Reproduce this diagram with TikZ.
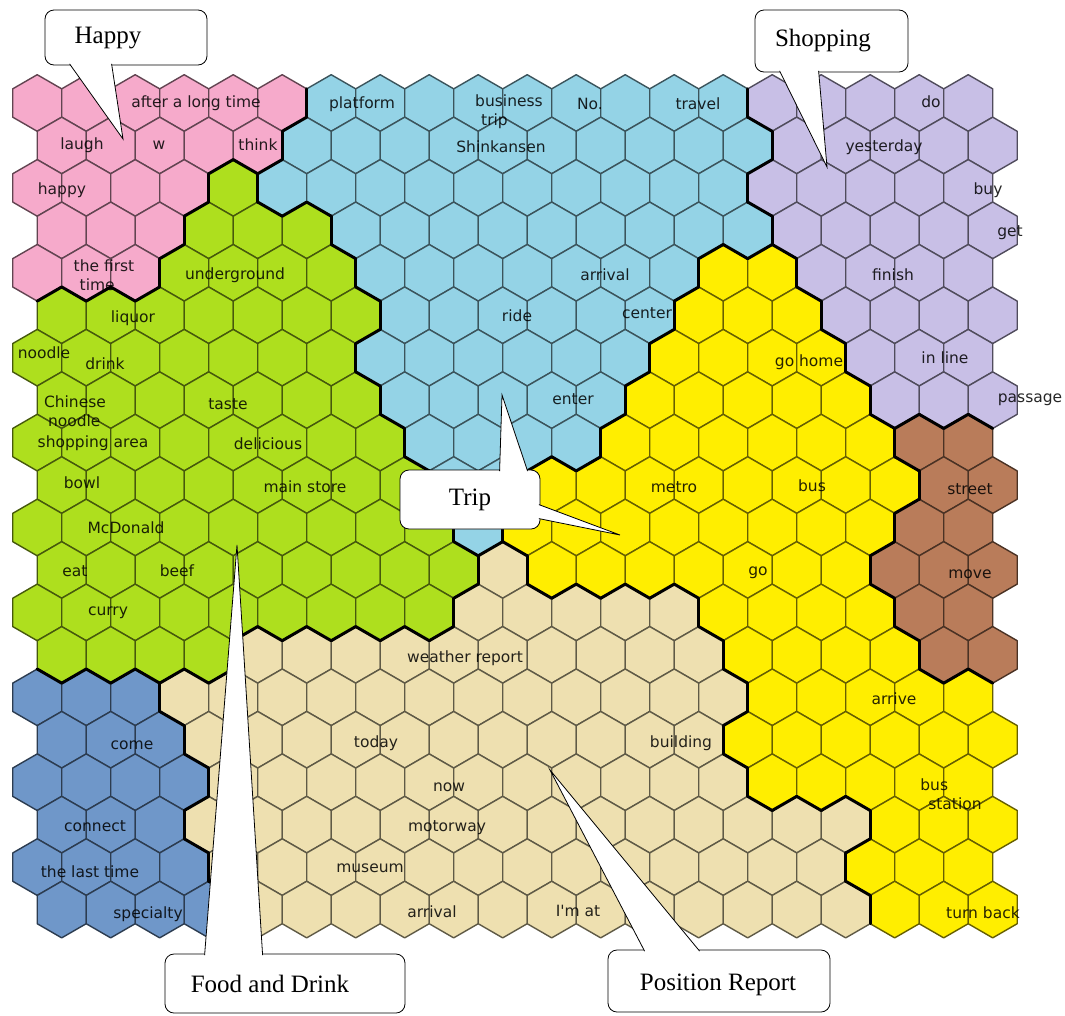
\documentclass[tikz,border=0pt]{standalone}
\usepackage{fontspec}
\usepackage{xstring}
\usetikzlibrary{calc}
\newfontfamily\cellfont{DejaVu Sans}
\newfontfamily\notefont{Liberation Serif}

\definecolor{MapPink}{HTML}{F6AACB}
\definecolor{MapSky}{HTML}{94D3E6}
\definecolor{MapLilac}{HTML}{C8BFE6}
\definecolor{MapLime}{HTML}{AEDF1E}
\definecolor{MapYellow}{HTML}{FFEE00}
\definecolor{MapBrown}{HTML}{B97C5A}
\definecolor{MapSand}{HTML}{EEE0B0}
\definecolor{MapSteel}{HTML}{6F97C9}

% letter of a cell -> fill colour
\def\hexcolP{MapPink}
\def\hexcolB{MapSky}
\def\hexcolL{MapLilac}
\def\hexcolG{MapLime}
\def\hexcolY{MapYellow}
\def\hexcolR{MapBrown}
\def\hexcolE{MapSand}
\def\hexcolS{MapSteel}

% one string of 20 cells per row of the map
\newcommand{\setmaprow}[2]{\expandafter\def\csname maprow#1\endcsname{#2}}
\setmaprow{0}{PPPPPPBBBBBBBBBLLLLL}
\setmaprow{1}{PPPPPBBBBBBBBBBLLLLL}
\setmaprow{2}{PPPPGBBBBBBBBBBLLLLL}
\setmaprow{3}{PPPGGGBBBBBBBBBLLLLL}
\setmaprow{4}{PPPGGGGBBBBBBBYYLLLL}
\setmaprow{5}{GGGGGGGBBBBBBYYYLLLL}
\setmaprow{6}{GGGGGGGBBBBBBYYYYLLL}
\setmaprow{7}{GGGGGGGBBBBBYYYYYLLL}
\setmaprow{8}{GGGGGGGGBBBBYYYYYYRR}
\setmaprow{9}{GGGGGGGGBBYYYYYYYYRR}
\setmaprow{10}{GGGGGGGGGBYYYYYYYYRR}
\setmaprow{11}{GGGGGGGGGEYYYYYYYRRR}
\setmaprow{12}{GGGGGGGGGEEEEEYYYYRR}
\setmaprow{13}{GGGGEEEEEEEEEEYYYYRR}
\setmaprow{14}{SSSEEEEEEEEEEEEYYYYY}
\setmaprow{15}{SSSEEEEEEEEEEEYYYYYY}
\setmaprow{16}{SSSSEEEEEEEEEEEYYYYY}
\setmaprow{17}{SSSEEEEEEEEEEEEEEYYY}
\setmaprow{18}{SSSSEEEEEEEEEEEEEYYY}
\setmaprow{19}{SSSSEEEEEEEEEEEEEYYY}
\newcommand{\getcell}[3]{\StrChar{\csname maprow#1\endcsname}{\number\numexpr#2+1\relax}[#3]}

\begin{document}
\begin{tikzpicture}[
x=1pt, y=-1pt,
hexcell/.style={line width=1.4pt, line join=round},
clusterline/.style={draw=black, line width=3pt, line cap=round},
word/.style={font=\cellfont\fontsize{15.5}{19}\selectfont, text=black,
  text opacity=0.85, inner sep=0pt, align=left},
notebox/.style={draw=black, fill=white, line width=0.8pt,
  rounded corners=9pt, inner sep=0pt},
notetext/.style={font=\notefont\fontsize{25}{28}\selectfont, inner sep=0pt},
pointer/.style={draw=black, fill=white, line width=0.8pt, line join=miter}
]
\useasboundingbox (0,0) rectangle (1065,1015);
\fill[white] (0,0) rectangle (1065,1015);

% Hexagonal cells
\foreach \ri in {0,...,19}{
  \foreach \ci in {0,...,19}{
    \pgfmathsetmacro{\cx}{37.2+49*\ci+24.5*mod(\ri,2)}
    \pgfmathsetmacro{\cy}{103+42.45*\ri}
    \getcell{\ri}{\ci}{\here}
    \edef\hexfill{\csname hexcol\here\endcsname}
    \draw[hexcell, fill=\hexfill, draw=\hexfill!40!black]
      (\cx,\cy-28.3) -- (\cx+24.5,\cy-14.15) -- (\cx+24.5,\cy+14.15)
      -- (\cx,\cy+28.3) -- (\cx-24.5,\cy+14.15) -- (\cx-24.5,\cy-14.15) -- cycle;
  }
}

% Cluster borders
\foreach \ri in {0,...,19}{
  \foreach \ci in {0,...,19}{
    \pgfmathsetmacro{\cx}{37.2+49*\ci+24.5*mod(\ri,2)}
    \pgfmathsetmacro{\cy}{103+42.45*\ri}
    \getcell{\ri}{\ci}{\here}
    \ifnum\ci<19
      \getcell{\ri}{\ci+1}{\there}
      \ifx\here\there\else
        \draw[clusterline] (\cx+24.5,\cy-14.15) -- (\cx+24.5,\cy+14.15);
      \fi
    \fi
    \ifnum\ri<19
      \pgfmathtruncatemacro{\nl}{\ci-1+mod(\ri,2)}
      \pgfmathtruncatemacro{\nr}{\nl+1}
      \pgfmathtruncatemacro{\rn}{\ri+1}
      \ifnum\nl>-1
        \getcell{\rn}{\nl}{\there}
        \ifx\here\there\else
          \draw[clusterline] (\cx-24.5,\cy+14.15) -- (\cx,\cy+28.3);
        \fi
      \fi
      \ifnum\nr<20
        \getcell{\rn}{\nr}{\there}
        \ifx\here\there\else
          \draw[clusterline] (\cx,\cy+28.3) -- (\cx+24.5,\cy+14.15);
        \fi
      \fi
    \fi
  }
}

% Words, pink cluster
\node[word] (wAfter) at (196,103) {after a long time};
\node[word] (wLaugh) at (82,145) {laugh};
\node[word] (wW) at (159,145) {w};
\node[word] (wThink) at (258,145) {think};
\node[word] (wHappy) at (62,190) {happy};
\node[word] (wFirst) at (104,275) {the first\\\hspace*{6pt}time};

% Words, sky cluster
\node[word] (wPlatform) at (362,104) {platform};
\node[word] (wBusiness) at (509,112) {business\\\hspace*{6pt}trip};
\node[word] (wNo) at (590,104) {No.};
\node[word] (wTravel) at (698,104) {travel};
\node[word] (wShinkansen) at (501,147) {Shinkansen};
\node[word] (wArrival) at (605,275) {arrival};
\node[word] (wRide) at (517,316) {ride};
\node[word] (wCenter) at (647,313) {center};
\node[word] (wEnter) at (573,399) {enter};

% Words, lilac cluster
\node[word] (wDo) at (931,102) {do};
\node[word] (wYesterday) at (884,147) {yesterday};
\node[word] (wBuy) at (988,190) {buy};
\node[word] (wGet) at (1010,233) {get};
\node[word] (wFinish) at (893,275) {finish};
\node[word] (wInLine) at (945,358) {in line};
\node[word] (wPassage) at (1030,400) {passage};

% Words, lime cluster
\node[word] (wUnderground) at (235,275) {underground};
\node[word] (wLiquor) at (133,318) {liquor};
\node[word] (wNoodle) at (44,353) {noodle};
\node[word] (wDrink) at (105,364) {drink};
\node[word] (wChinese) at (75,411) {Chinese\\\hspace*{4pt}noodle};
\node[word] (wTaste) at (228,404) {taste};
\node[word] (wShopArea) at (93,443) {shopping area};
\node[word] (wDelicious) at (268,444) {delicious};
\node[word] (wBowl) at (82,483) {bowl};
\node[word] (wMainStore) at (305,487) {main store};
\node[word] (wMcDonald) at (126,528) {McDonald};
\node[word] (wEat) at (75,571) {eat};
\node[word] (wBeef) at (177,571) {beef};
\node[word] (wCurry) at (108,613) {curry};

% Words, yellow and brown clusters
\node[word] (wGoHome) at (809,362) {go home};
\node[word] (wMetro) at (674,487) {metro};
\node[word] (wBus) at (812,486) {bus};
\node[word] (wGo) at (758,573) {go};
\node[word] (wStreet) at (970,489) {street};
\node[word] (wMove) at (970,574) {move};
\node[word] (wArrive) at (894,699) {arrive};
\node[word] (wBusStation) at (951,794) {bus\\\hspace*{8pt}station};
\node[word] (wTurnBack) at (983,913) {turn back};

% Words, sand cluster
\node[word] (wWeather) at (465,658) {weather report};
\node[word] (wToday) at (376,743) {today};
\node[word] (wBuilding) at (681,743) {building};
\node[word] (wNow) at (449,787) {now};
\node[word] (wMotorway) at (447,828) {motorway};
\node[word] (wMuseum) at (370,868) {museum};
\node[word] (wArrivalB) at (432,912) {arrival};
\node[word] (wImAt) at (578,911) {I'm at};

% Words, steel cluster
\node[word] (wCome) at (132,745) {come};
\node[word] (wConnect) at (95,826) {connect};
\node[word] (wLastTime) at (90,872) {the last time};
\node[word] (wSpecialty) at (148,914) {specialty};

% Callout tips
\coordinate (happyTip) at (123,139);
\coordinate (shopTip) at (827,167);
\coordinate (tripTipUp) at (502,395);
\coordinate (tripTipRight) at (620,535);
\coordinate (foodTip) at (237,545);
\coordinate (posTip) at (550,770);

% Happy callout
\node[notebox, minimum width=162pt, minimum height=55pt] (happy) at (126,37.5) {};
\draw[pointer] ($(happy.south west)+(25,-1.5)$) -- (happyTip) -- ($(happy.south west)+(67,-1.5)$);
\node[notetext] (happyText) at (108,38) {Happy};

% Shopping callout
\node[notebox, minimum width=153pt, minimum height=62pt] (shop) at (831.5,41) {};
\draw[pointer] ($(shop.south west)+(25,-1.5)$) -- (shopTip) -- ($(shop.south west)+(64,-1.5)$);
\node[notetext] (shopText) at (823,41) {Shopping};

% Trip callout
\node[notebox, minimum width=140pt, minimum height=59pt] (trip) at (470,499.5) {};
\draw[pointer] ($(trip.north west)+(100,1.5)$) -- (tripTipUp) -- ($(trip.north west)+(128,1.5)$);
\draw[pointer] ($(trip.north east)+(-1.5,35)$) -- (tripTipRight) -- ($(trip.north east)+(-1.5,49)$);
\node[notetext] (tripText) at (470,500) {Trip};

% Food and Drink callout
\node[notebox, minimum width=240pt, minimum height=59pt] (food) at (285,983.5) {};
\draw[pointer] ($(food.north west)+(40,1.5)$) -- (foodTip) -- ($(food.north west)+(98,1.5)$);
\node[notetext] (foodText) at (270,984) {Food and Drink};

% Position Report callout
\node[notebox, minimum width=222pt, minimum height=62pt] (pos) at (719,981) {};
\draw[pointer] ($(pos.north west)+(37,1.5)$) -- (posTip) -- ($(pos.north west)+(92,1.5)$);
\node[notetext] (posText) at (718,985) {Position Report};

\end{tikzpicture}
\end{document}
